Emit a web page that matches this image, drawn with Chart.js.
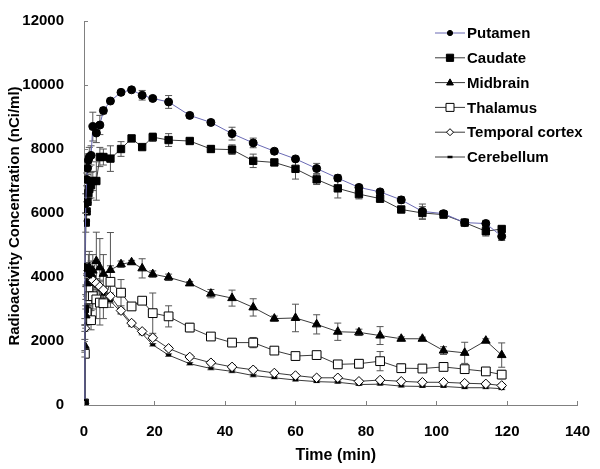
<!DOCTYPE html>
<html>
<head>
<meta charset="utf-8">
<script src="https://cdn.jsdelivr.net/npm/chart.js@4"></script>
<style>
  html, body { margin: 0; padding: 0; background: #fff; }
  #wrap { width: 600px; height: 469px; position: relative; }
</style>
</head>
<body>
<div id="wrap"><canvas id="chart"></canvas></div>
<script>
// frame mid-times (min)
const times = [0, 0.25, 0.5, 0.75, 1, 1.25, 1.5, 2, 2.5, 3.5, 4.5, 5.5, 7.5, 10.5, 13.5, 16.5, 19.5, 24, 30, 36, 42, 48, 54, 60, 66, 72, 78, 84, 90, 96, 102, 108, 114, 118.5];

// mean radioactivity (nCi/ml) per region
const putamen = [50, 4300, 6300, 7050, 7400, 7650, 7750, 7800, 8700, 8500, 8750, 9200, 9500, 9770, 9850, 9680, 9580, 9470, 9050, 8830, 8480, 8190, 7930, 7690, 7390, 7090, 6800, 6660, 6410, 6050, 5980, 5700, 5670, 5270];
const caudate = [50, 3000, 5700, 6050, 6350, 6620, 6750, 6870, 7000, 7000, 7750, 7750, 7700, 8000, 8330, 8060, 8370, 8280, 8250, 8000, 7980, 7630, 7580, 7380, 7050, 6770, 6590, 6450, 6110, 6000, 5950, 5700, 5430, 5500];
const midbrain = [50, 1850, 2800, 3800, 4050, 4200, 4300, 4100, 4200, 4500, 4300, 4100, 4220, 4400, 4460, 4270, 4090, 3990, 3800, 3480, 3340, 3050, 2700, 2720, 2520, 2290, 2270, 2170, 2070, 2070, 1700, 1630, 2010, 1560];
const thalamus = [50, 1600, 2700, 2900, 3300, 3600, 3400, 2650, 3400, 3300, 3200, 3180, 3850, 3510, 3080, 3260, 2870, 2770, 2420, 2140, 1950, 1950, 1700, 1530, 1560, 1270, 1290, 1370, 1150, 1140, 1190, 1120, 1050, 950];
const temporal = [50, 2400, 3500, 3900, 4100, 4000, 4100, 4000, 3900, 3800, 3700, 3600, 3400, 2950, 2560, 2300, 2100, 1770, 1500, 1320, 1190, 1100, 1000, 920, 850, 850, 740, 780, 740, 710, 710, 680, 660, 610];
const cerebellum = [50, 2600, 3600, 3900, 4000, 4100, 4000, 3900, 3800, 3700, 3600, 3450, 3250, 2900, 2500, 2230, 1880, 1560, 1290, 1140, 1050, 920, 850, 780, 730, 710, 640, 650, 590, 580, 580, 540, 540, 510];

// standard deviations (error bars)
const putamenErr = [0, 0, 300, 200, 200, 200, 300, 300, 450, 300, 300, 100, 80, 60, 50, 150, 60, 200, 80, 80, 200, 150, 80, 80, 160, 100, 80, 80, 100, 230, 80, 60, 100, 130];
const caudateErr = [0, 0, 300, 300, 300, 300, 300, 400, 300, 600, 300, 250, 400, 230, 100, 80, 130, 200, 60, 100, 150, 210, 100, 320, 160, 300, 150, 120, 80, 200, 100, 60, 150, 80];
const midbrainErr = [0, 200, 300, 400, 400, 500, 500, 400, 500, 900, 900, 600, 1170, 100, 60, 300, 100, 100, 60, 130, 250, 270, 80, 430, 300, 270, 100, 280, 60, 50, 120, 330, 60, 380];
const thalamusErr = [0, 100, 300, 400, 400, 500, 400, 300, 400, 600, 700, 480, 500, 410, 60, 60, 630, 330, 130, 60, 100, 160, 80, 60, 100, 60, 130, 300, 130, 60, 60, 60, 60, 130];
const temporalErr = [0, 100, 200, 200, 200, 200, 200, 150, 150, 150, 150, 100, 100, 80, 60, 60, 80, 60, 60, 60, 60, 60, 50, 50, 50, 50, 50, 50, 50, 50, 50, 50, 50, 50];
const cerebellumErr = [0, 100, 150, 150, 150, 150, 150, 100, 100, 100, 100, 80, 60, 60, 50, 40, 40, 40, 40, 40, 40, 40, 30, 30, 30, 30, 30, 30, 30, 30, 30, 30, 30, 30];

const seriesNames = ['Putamen', 'Caudate', 'Midbrain', 'Thalamus', 'Temporal cortex', 'Cerebellum'];
const xTicks = [0, 20, 40, 60, 80, 100, 120, 140];
const yTicks = [0, 2000, 4000, 6000, 8000, 10000, 12000];

const FONT = "'Liberation Sans', Arial, sans-serif";

function toPoints(vals) {
    return times.map((t, i) => ({ x: t, y: vals[i] }));
}

// marker look for each region
const styles = [
    { line: '#6a6ab4', style: 'circle', fill: '#000', r: 4, lr: 2.6 },
    { line: '#3a3a3a', style: 'rect', fill: '#000', r: 5.2, lr: 3.6 },
    { line: '#3a3a3a', style: 'triangle', fill: '#000', r: 5, lr: 3.4 },
    { line: '#3a3a3a', style: 'rect', fill: '#fff', r: 6.2, lr: 4 },
    { line: '#3a3a3a', style: 'rectRot', fill: '#fff', r: 4.8, lr: 3.5 },
    { line: '#3a3a3a', style: 'line', fill: '#000', r: 2.5, lr: 2.5 }
];
const values = [putamen, caudate, midbrain, thalamus, temporal, cerebellum];
const errors = [putamenErr, caudateErr, midbrainErr, thalamusErr, temporalErr, cerebellumErr];

const datasets = values.map((v, i) => ({
    label: seriesNames[i],
    data: toPoints(v),
    errs: errors[i],
    borderColor: styles[i].line,
    borderWidth: 1,
    pointStyle: styles[i].style,
    pointRadius: styles[i].r,
    pointBackgroundColor: styles[i].fill,
    pointBorderColor: '#000',
    pointBorderWidth: styles[i].style === 'line' ? 2.5 : 1,
    tension: 0
}));

// error bars, drawn under the lines
const errorBars = {
    id: 'errorBars',
    beforeDatasetsDraw(chart) {
        const ctx = chart.ctx, xs = chart.scales.x, ys = chart.scales.y;
        ctx.save();
        ctx.strokeStyle = '#555';
        ctx.lineWidth = 1;
        chart.data.datasets.forEach(ds => {
            ds.data.forEach((p, i) => {
                const e = ds.errs[i];
                if (!e) return;
                const px = xs.getPixelForValue(p.x);
                const top = ys.getPixelForValue(p.y + e);
                const bot = ys.getPixelForValue(p.y - e);
                ctx.beginPath();
                ctx.moveTo(px, top); ctx.lineTo(px, bot);
                ctx.moveTo(px - 3.5, top); ctx.lineTo(px + 3.5, top);
                ctx.moveTo(px - 3.5, bot); ctx.lineTo(px + 3.5, bot);
                ctx.stroke();
            });
        });
        ctx.restore();
    }
};

function drawMarker(ctx, style, x, y, r, fill) {
    ctx.beginPath();
    if (style === 'circle') {
        ctx.arc(x, y, r, 0, Math.PI * 2);
    } else if (style === 'rect') {
        ctx.rect(x - r, y - r, r * 2, r * 2);
    } else if (style === 'triangle') {
        ctx.moveTo(x, y - r * 1.1);
        ctx.lineTo(x + r, y + r * 0.7);
        ctx.lineTo(x - r, y + r * 0.7);
        ctx.closePath();
    } else if (style === 'rectRot') {
        ctx.moveTo(x, y - r); ctx.lineTo(x + r, y); ctx.lineTo(x, y + r); ctx.lineTo(x - r, y);
        ctx.closePath();
    } else {
        ctx.lineWidth = 2.5;
        ctx.moveTo(x - r, y); ctx.lineTo(x + r, y);
        ctx.stroke();
        return;
    }
    ctx.fillStyle = fill;
    ctx.fill();
    ctx.lineWidth = 1;
    ctx.stroke();
}

// axis titles, inner tick marks and the legend
const decorations = {
    id: 'decorations',
    afterDraw(chart) {
        const ctx = chart.ctx, xs = chart.scales.x, ys = chart.scales.y, a = chart.chartArea;
        ctx.save();
        ctx.strokeStyle = '#808080';
        ctx.lineWidth = 1;
        ctx.beginPath();
        xTicks.forEach(t => {
            const px = Math.round(xs.getPixelForValue(t)) + 0.5;
            ctx.moveTo(px, a.bottom); ctx.lineTo(px, a.bottom - 4);
        });
        yTicks.forEach(t => {
            const py = Math.round(ys.getPixelForValue(t)) + 0.5;
            ctx.moveTo(a.left, py); ctx.lineTo(a.left + 4, py);
        });
        ctx.stroke();

        ctx.fillStyle = '#000';
        ctx.font = 'bold 16px ' + FONT;
        ctx.textAlign = 'center';
        ctx.textBaseline = 'middle';
        ctx.fillText('Time (min)', (a.left + a.right) / 2 + 5, 456);

        ctx.save();
        ctx.translate(15, (a.top + a.bottom) / 2 + 3);
        ctx.rotate(-Math.PI / 2);
        ctx.font = 'bold 15px ' + FONT;
        ctx.fillText('Radioactivity Concentration (nCi/ml)', 0, 0);
        ctx.restore();

        // legend
        const lx = 435, tx = 467;
        ctx.font = 'bold 15px ' + FONT;
        ctx.textAlign = 'left';
        seriesNames.forEach((name, i) => {
            const y = 33 + i * 24.8;
            ctx.strokeStyle = styles[i].line;
            ctx.lineWidth = 1;
            ctx.beginPath();
            ctx.moveTo(lx, y); ctx.lineTo(lx + 30, y);
            ctx.stroke();
            ctx.strokeStyle = '#000';
            drawMarker(ctx, styles[i].style, lx + 15, y, styles[i].lr, styles[i].fill);
            ctx.fillStyle = '#000';
            ctx.fillText(name, tx, y + 1);
        });
        ctx.restore();
    }
};

const tickFont = { family: FONT, size: 15, weight: 'bold' };

new Chart(document.getElementById('chart'), {
    type: 'line',
    data: { datasets: datasets },
    options: {
        responsive: true,
        maintainAspectRatio: false,
        animation: false,
        layout: { padding: { top: 12, right: 18, left: 0, bottom: 0 } },
        plugins: {
            legend: { display: false },
            tooltip: { enabled: false }
        },
        scales: {
            x: {
                type: 'linear',
                min: 0,
                max: 140,
                afterFit: s => { s.height = 64; },
                afterBuildTicks: s => { s.ticks = xTicks.map(v => ({ value: v })); },
                grid: { display: false },
                border: { display: true, color: '#808080', width: 1 },
                ticks: { padding: 10, color: '#000', font: tickFont, callback: v => String(v) }
            },
            y: {
                min: 0,
                max: 12000,
                afterFit: s => { s.width = 84; },
                afterBuildTicks: s => { s.ticks = yTicks.map(v => ({ value: v })); },
                grid: { display: false },
                border: { display: true, color: '#808080', width: 1 },
                ticks: { padding: 12, color: '#000', font: tickFont, callback: v => String(v) }
            }
        }
    },
    plugins: [errorBars, decorations]
});
</script>
</body>
</html>
